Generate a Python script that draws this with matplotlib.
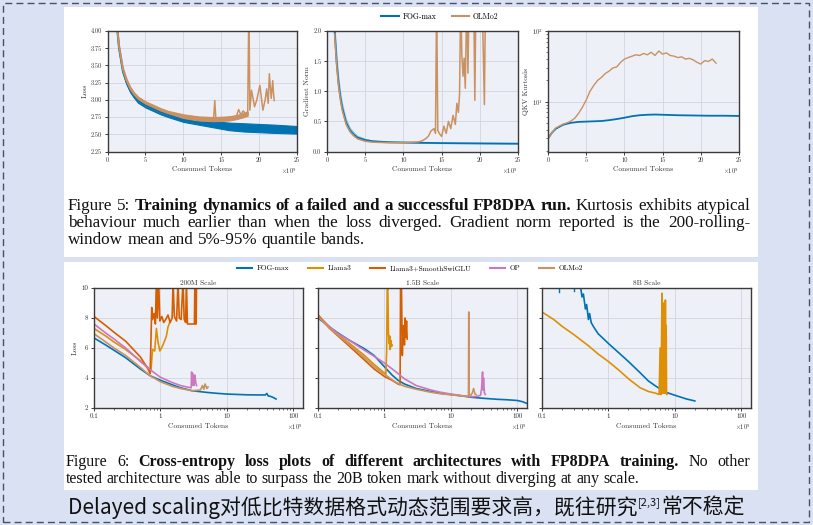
import matplotlib
matplotlib.use('Agg')
import matplotlib.pyplot as plt
from matplotlib.patches import Rectangle
from matplotlib.lines import Line2D

plt.rcParams['mathtext.fontset'] = 'cm'
plt.rcParams['axes.formatter.use_mathtext'] = True
plt.rcParams['font.family'] = ['cmr10', 'DejaVu Serif']
plt.rcParams['axes.unicode_minus'] = False

# ---------------- data : Figure 5 (x in 1e9 tokens) ----------------
loss_tok_fog = [1.2, 1.5, 2, 2.5, 3, 3.5, 4, 5, 6, 7, 8, 10, 12, 14, 16, 18, 20, 22, 25]
loss_fog_mid = [4.10, 3.75, 3.42, 3.25, 3.13, 3.05, 2.99, 2.92, 2.87, 2.82, 2.78, 2.71, 2.67, 2.64, 2.61, 2.60, 2.59, 2.58, 2.57]
loss_fog_lo = [4.05, 3.72, 3.40, 3.23, 3.11, 3.03, 2.96, 2.89, 2.84, 2.79, 2.75, 2.68, 2.64, 2.60, 2.56, 2.54, 2.53, 2.52, 2.51]
loss_fog_hi = [4.15, 3.78, 3.45, 3.27, 3.15, 3.07, 3.01, 2.95, 2.90, 2.85, 2.81, 2.74, 2.71, 2.69, 2.67, 2.66, 2.65, 2.64, 2.62]

loss_tok_olmo = [1.2, 1.5, 2, 2.5, 3, 3.5, 4, 5, 6, 7, 8, 10, 12, 14, 16, 17, 18, 18.5]
loss_olmo_mid = [4.12, 3.78, 3.45, 3.28, 3.16, 3.08, 3.02, 2.95, 2.90, 2.85, 2.81, 2.76, 2.73, 2.72, 2.73, 2.75, 2.78, 2.80]
loss_olmo_lo = [4.09, 3.75, 3.42, 3.25, 3.13, 3.05, 2.99, 2.92, 2.87, 2.82, 2.78, 2.73, 2.70, 2.69, 2.70, 2.72, 2.75, 2.77]
loss_olmo_hi = [4.15, 3.81, 3.48, 3.31, 3.19, 3.11, 3.05, 2.98, 2.93, 2.88, 2.84, 2.79, 2.76, 2.75, 2.76, 2.78, 2.81, 2.83]
loss_tok_olmo_spk = [14.0, 14.15, 14.3, 17.0, 17.3, 17.6, 17.9, 18.2, 18.5, 18.62, 18.68, 18.78, 19.0, 19.4, 19.7, 20.1,
                     20.5, 20.8, 21.0, 21.2, 21.35, 21.6, 21.8, 21.9, 22.0]
loss_olmo_spk = [2.72, 2.99, 2.72, 2.76, 2.86, 2.78, 2.84, 2.80, 2.83, 4.10, 4.10, 2.85, 3.14, 2.90, 3.00, 3.21,
                 2.85, 3.00, 3.16, 2.95, 3.38, 3.02, 3.28, 3.10, 2.99]

gn_tok_fog = [0.9, 1.0, 1.25, 1.5, 1.75, 2, 2.5, 3, 3.5, 4, 5, 6, 8, 10, 12, 15, 20, 25]
gn_fog_mid = [2.30, 2.00, 1.50, 1.15, 0.90, 0.72, 0.48, 0.35, 0.28, 0.23, 0.19, 0.17, 0.155, 0.15, 0.145, 0.14, 0.135, 0.13]
gn_fog_lo = [2.10, 1.85, 1.35, 1.02, 0.80, 0.64, 0.42, 0.31, 0.25, 0.21, 0.17, 0.155, 0.145, 0.14, 0.135, 0.13, 0.125, 0.12]
gn_fog_hi = [2.50, 2.20, 1.70, 1.30, 1.02, 0.82, 0.56, 0.41, 0.33, 0.27, 0.22, 0.19, 0.17, 0.16, 0.155, 0.15, 0.145, 0.14]
gn_tok_olmo = [1.0, 1.25, 1.5, 1.75, 2, 2.5, 3, 3.5, 4, 5, 6, 8, 10, 12, 12.5, 13, 13.3, 13.6, 14.0, 14.2, 14.35,
               14.5, 14.7, 15.0, 15.3, 15.6, 15.9, 16.2, 16.5, 16.8, 17.0, 17.2, 17.35, 17.5, 17.65, 17.8, 17.95,
               18.1, 18.3, 18.45, 18.6, 18.8, 19.0, 19.2, 19.35, 19.5, 19.7, 20.0, 20.3, 20.6, 20.75, 20.9]
gn_olmo = [1.95, 1.45, 1.10, 0.86, 0.68, 0.45, 0.33, 0.26, 0.21, 0.17, 0.155, 0.145, 0.145, 0.16, 0.18, 0.22, 0.26,
           0.34, 0.38, 0.30, 2.60, 0.35, 0.30, 0.25, 0.42, 0.30, 0.50, 0.38, 0.60, 0.45, 0.80, 0.65, 0.95, 2.60,
           1.60, 1.25, 1.55, 1.05, 2.60, 1.30, 2.60, 2.60, 2.60, 2.60, 0.85, 2.60, 2.60, 2.60, 2.60, 0.78, 2.60, 2.60]

kurt_tok_fog = [0, 0.5, 1, 1.5, 2, 3, 4, 5, 6, 7, 8, 9, 10, 11, 12, 13, 14, 15, 17, 19, 21, 23, 25]
kurt_fog = [3.0, 3.6, 4.1, 4.4, 4.7, 5.0, 5.15, 5.2, 5.25, 5.3, 5.45, 5.65, 5.9, 6.2, 6.4, 6.5, 6.55, 6.5, 6.4,
            6.35, 6.3, 6.3, 6.25]
kurt_tok_olmo = [0, 0.5, 1, 1.5, 2, 2.5, 3, 3.5, 4, 4.5, 5, 5.5, 6, 6.5, 7, 7.5, 8, 8.5, 9, 9.5, 10, 10.5, 11, 11.5,
                 12, 12.5, 13, 13.5, 14, 14.5, 15, 15.5, 16, 16.5, 17, 17.5, 18, 18.5, 19, 19.5, 20, 20.5, 21,
                 21.5, 22]
kurt_olmo = [3.0, 3.6, 4.2, 4.5, 4.8, 5.0, 5.3, 5.8, 6.8, 8.3, 10.5, 14, 17, 20, 22, 25, 27, 30, 31, 36, 40, 42,
             44, 46, 45, 48, 46, 50, 45, 52, 47, 49, 45, 44, 42, 43, 40, 41, 39, 36, 34, 38, 37, 40, 35]

# ---------------- data : Figure 6 (x in 1e9 tokens) ----------------
s200_fog_x = [0.1, 0.15, 0.2, 0.3, 0.5, 0.7, 1, 1.5, 2, 3, 5, 7, 10, 15, 20, 30, 38, 40, 42, 45, 50, 55]
s200_fog_y = [6.67, 6.2, 5.85, 5.35, 4.6, 4.15, 3.85, 3.55, 3.35, 3.15, 3.04, 2.98, 2.93, 2.9, 2.88, 2.87, 2.87,
              2.97, 2.8, 2.78, 2.7, 2.6]
s200_llama_x = [0.1, 0.15, 0.2, 0.3, 0.5, 0.65, 0.72, 0.76, 0.82, 0.87, 0.92, 0.98, 1.04, 1.09, 1.16, 1.23, 1.3, 1.38]
s200_llama_y = [7.3, 6.8, 6.4, 5.9, 5.15, 4.7, 4.5, 5.9, 5.8, 7.3, 6.4, 5.8, 6.0, 6.2, 6.5, 6.8, 7.4, 7.7]
s200_smooth_x = [0.1, 0.15, 0.2, 0.3, 0.5, 0.65, 0.7, 0.72, 0.74, 0.76, 0.8, 0.84, 0.87, 0.9, 0.94, 0.98, 1.05,
                 1.12, 1.2, 1.3, 1.4, 1.5, 1.55, 1.62, 1.75, 1.84, 1.92, 2.05, 2.19, 2.28, 2.4, 2.46, 2.55, 2.7,
                 2.9, 3.1, 3.25, 3.3, 3.38, 3.45, 3.5]
s200_smooth_y = [8.1, 7.5, 7.05, 6.45, 5.4, 4.6, 4.3, 6.5, 8.7, 7.9, 8.3, 7.6, 10.5, 8.0, 10.5, 7.8, 8.1, 7.7, 7.9,
                 8.2, 7.7, 8.0, 10.5, 8.1, 7.8, 10.5, 8.0, 7.9, 10.5, 7.9, 7.7, 10.5, 7.6, 7.6, 7.6, 7.6, 7.6,
                 10.5, 7.6, 7.6, 10.5]
s200_op_x = [0.1, 0.15, 0.2, 0.3, 0.5, 0.7, 1, 1.5, 2, 2.5, 2.9, 2.95, 3.0, 3.05, 3.1, 3.15, 3.2, 3.3, 3.4, 3.5]
s200_op_y = [7.6, 7.0, 6.6, 6.0, 5.1, 4.55, 4.05, 3.7, 3.5, 3.4, 3.35, 4.4, 3.5, 4.3, 3.6, 4.1, 3.5, 4.2, 3.7, 3.5]
s200_olmo_x = [0.1, 0.15, 0.2, 0.3, 0.5, 0.7, 1, 1.5, 2, 3, 4, 4.3, 4.5, 4.7, 5, 5.2]
s200_olmo_y = [6.95, 6.4, 6.0, 5.5, 4.7, 4.15, 3.75, 3.45, 3.3, 3.15, 3.2, 3.5, 3.25, 3.6, 3.3, 3.4]

s15_fog_x = [0.1, 0.15, 0.2, 0.3, 0.5, 0.7, 1, 1.3, 1.6, 2, 3, 5, 7, 10, 15, 20, 30, 50, 70, 100, 120, 140]
s15_fog_y = [8.0, 7.4, 7.0, 6.5, 5.95, 5.5, 4.75, 4.2, 3.85, 3.6, 3.3, 3.1, 2.98, 2.9, 2.8, 2.72, 2.65, 2.58, 2.55,
             2.5, 2.42, 2.3]
s15_llama_x = [0.1, 0.15, 0.2, 0.3, 0.5, 0.7, 0.9, 1.05, 1.08, 1.1, 1.12, 1.15, 1.18, 1.2, 1.22, 1.25, 1.28, 1.3]
s15_llama_y = [8.2, 7.4, 6.9, 6.3, 5.5, 4.9, 4.5, 4.25, 5.8, 9.8, 10.5, 7.0, 6.3, 6.8, 5.9, 6.5, 6.1, 6.2]
s15_smooth_x = [0.1, 0.15, 0.2, 0.3, 0.5, 0.7, 1, 1.3, 1.6, 1.72, 1.75, 1.8, 1.86, 1.9, 1.95, 2.0, 2.05, 2.1,
                2.15, 2.2]
s15_smooth_y = [8.2, 7.3, 6.8, 6.1, 5.2, 4.6, 4.1, 3.85, 3.6, 3.55, 10.5, 10.5, 5.5, 7.0, 7.5, 6.2, 8.0, 6.7,
                7.8, 6.6]
s15_op_x = [0.1, 0.15, 0.2, 0.3, 0.5, 0.7, 1, 1.5, 2, 3, 5, 7, 10, 15, 20, 25, 28, 29, 30, 30.5, 31, 32, 33]
s15_op_y = [8.1, 7.4, 6.95, 6.5, 5.85, 5.45, 5.0, 4.4, 3.95, 3.5, 3.2, 3.05, 2.93, 2.82, 2.75, 2.78, 2.85, 3.3,
            4.4, 3.2, 4.0, 3.0, 2.9]
s15_olmo_x = [0.1, 0.15, 0.2, 0.3, 0.5, 0.7, 1, 1.5, 2, 3, 5, 7, 10, 15, 18, 18.4, 18.6, 18.8, 20, 21, 22, 23, 24]
s15_olmo_y = [8.1, 7.3, 6.85, 6.2, 5.35, 4.75, 4.25, 3.7, 3.45, 3.25, 3.05, 2.95, 2.88, 2.8, 2.78, 2.8, 8.4,
              2.9, 2.85, 3.0, 3.3, 2.95, 2.9]

s8_fog_x = [0.37, 0.4, 0.42, 0.45, 0.47, 0.5, 0.52, 0.55, 0.6, 0.7, 0.85, 1, 1.5, 2, 3, 4, 5, 7, 10, 15, 20]
s8_fog_y = [10.5, 9.4, 9.6, 8.6, 8.9, 7.9, 8.3, 7.7, 7.4, 6.95, 6.6, 6.3, 5.6, 5.1, 4.35, 3.8, 3.5, 3.08, 2.85,
            2.6, 2.47]
s8_fog_noise_x = [0.18, 0.18, 0.3, 0.3]
s8_fog_noise_y = [10.5, 9.75, 10.5, 9.8]
s8_llama_x = [0.1, 0.15, 0.2, 0.3, 0.5, 0.7, 1, 1.5, 2, 3, 4, 5, 5.8, 6.0, 6.2, 6.4, 6.5, 6.6, 6.7, 6.8, 6.9,
              7.0, 7.1, 7.2, 7.3, 7.4, 7.5, 7.6]
s8_llama_y = [8.4, 7.9, 7.45, 6.9, 6.15, 5.6, 5.1, 4.45, 3.95, 3.35, 3.1, 3.0, 2.9, 6.0, 2.9, 9.65, 3.0, 8.0,
              3.0, 9.0, 3.0, 8.2, 3.0, 9.2, 3.0, 7.5, 2.95, 2.9]

series_names = ['FOG-max', 'Llama3', 'Llama3+SmoothSwiGLU', 'OP', 'OLMo2']
series_colors = ['#0173b2', '#de8f05', '#d55e00', '#cc78bc', '#ca9161']
scale_titles = ['200M Scale', '1.5B Scale', '8B Scale']
bottom_xticks = [0.1, 1, 10, 100]
bottom_xticklabels = ['0.1', '1', '10', '100']

caption5 = [
    [("Figure 5:", False), ("Training dynamics of a failed and a successful FP8DPA run.", True),
     ("Kurtosis exhibits atypical", False)],
    [("behaviour much earlier than when the loss diverged.  Gradient norm reported is the 200-rolling-", False)],
    [("window mean and 5%-95% quantile bands.", False)],
]
caption6 = [
    [("Figure 6:", False), ("Cross-entropy loss plots of different architectures with FP8DPA training.", True),
     ("No other", False)],
    [("tested architecture was able to surpass the 20B token mark without diverging at any scale.", False)],
]
slide_text_a = "Delayed scaling对低比特数据格式动态范围要求高，既往研究"
slide_text_sup = "[2,3]"
slide_text_b = "常不稳定"

# ---------------- layout ----------------
W, H = 813, 525
fig = plt.figure(figsize=(W / 100, H / 100), dpi=100)
fig.patch.set_facecolor('#d9e1f2')


def rect(x0, y0, x1, y1):
    return [x0 / W, 1 - y1 / H, (x1 - x0) / W, (y1 - y0) / H]


fig.add_artist(Rectangle((3 / W, 1 - 522 / H), 806 / W, 519 / H, transform=fig.transFigure, fill=False,
                         edgecolor='#44536a', lw=1.0, ls=(0, (5, 3)), zorder=-4))
for (x0, y0, x1, y1) in [(64, 7, 758, 257), (64, 262, 758, 490)]:
    fig.add_artist(Rectangle((x0 / W, 1 - y1 / H), (x1 - x0) / W, (y1 - y0) / H, transform=fig.transFigure,
                             facecolor='white', edgecolor='none', zorder=-5))

TXT = '#333333'


def style_ax(ax, ts):
    ax.set_facecolor('#eef0f8')
    ax.grid(True, which='major', color='#d2d5df', lw=0.6)
    ax.set_axisbelow(True)
    for s in ax.spines.values():
        s.set_color('#3a3a3a')
        s.set_linewidth(1.0)
    ax.tick_params(which='major', direction='out', length=2.5, width=0.7, labelsize=ts, colors='#3a3a3a',
                   labelcolor=TXT, pad=1.5)
    ax.tick_params(which='minor', direction='out', length=1.5, width=0.5, colors='#3a3a3a')


def offset_label(ax, fs, dy):
    ax.text(1.0, dy, r'$\times10^{9}$', transform=ax.transAxes, ha='right', va='top', fontsize=fs, color=TXT)


LFS = 5.4
TFS = 4.6
C_FOG = series_colors[0]
C_OLMO = series_colors[4]

# Top panels
ax1 = fig.add_axes(rect(107.5, 31, 297, 151.5))
ax2 = fig.add_axes(rect(327, 31, 518, 151.5))
ax3 = fig.add_axes(rect(548, 31, 739, 151.5))
for ax in (ax1, ax2, ax3):
    style_ax(ax, TFS)
    ax.set_xlim(0, 25)
    ax.set_xticks([0, 5, 10, 15, 20, 25])
    ax.set_xticklabels(['0', '5', '10', '15', '20', '25'])
    ax.set_xlabel('Consumed Tokens', fontsize=LFS, color=TXT, labelpad=2.5)
    offset_label(ax, TFS, -0.12)

ax1.fill_between(loss_tok_fog, loss_fog_lo, loss_fog_hi, color=C_FOG, lw=0.8)
ax1.plot(loss_tok_fog, loss_fog_mid, color=C_FOG, lw=1.2)
ax1.fill_between(loss_tok_olmo, loss_olmo_lo, loss_olmo_hi, color=C_OLMO, lw=0.8)
ax1.plot(loss_tok_olmo, loss_olmo_mid, color=C_OLMO, lw=1.2)
ax1.plot(loss_tok_olmo_spk, loss_olmo_spk, color=C_OLMO, lw=1.1)
ax1.set_ylim(2.25, 4.0)
yt = [2.25, 2.5, 2.75, 3.0, 3.25, 3.5, 3.75, 4.0]
ax1.set_yticks(yt)
ax1.set_yticklabels([f'{v:.2f}' for v in yt])
ax1.set_ylabel('Loss', fontsize=LFS, color=TXT, labelpad=2)

ax2.fill_between(gn_tok_fog, gn_fog_lo, gn_fog_hi, color='#8ec3e6', lw=0)
ax2.plot(gn_tok_fog, gn_fog_mid, color=C_FOG, lw=1.3)
ax2.plot(gn_tok_olmo, gn_olmo, color=C_OLMO, lw=1.1)
ax2.set_ylim(0, 2.0)
yt = [0.0, 0.5, 1.0, 1.5, 2.0]
ax2.set_yticks(yt)
ax2.set_yticklabels([f'{v:.1f}' for v in yt])
ax2.set_ylabel('Gradient Norm', fontsize=LFS, color=TXT, labelpad=2)

ax3.plot(kurt_tok_fog, kurt_fog, color=C_FOG, lw=1.3)
ax3.plot(kurt_tok_olmo, kurt_olmo, color=C_OLMO, lw=1.0)
ax3.set_yscale('log')
ax3.set_ylim(1.96, 100)
ax3.set_yticks([10, 100])
ax3.set_yticklabels([r'$10^1$', r'$10^2$'])
ax3.yaxis.set_minor_formatter(plt.NullFormatter())
ax3.set_ylabel('QKV Kurtosis', fontsize=LFS, color=TXT, labelpad=2)

fig.legend([Line2D([0], [0], color=C_FOG, lw=1.5), Line2D([0], [0], color=C_OLMO, lw=1.5)],
           ['FOG-max', 'OLMo2'], loc='center', bbox_to_anchor=(440 / W, 1 - 17 / H), ncol=2, frameon=False,
           prop={'family': 'cmr10', 'size': 5.6}, handlelength=2.2, columnspacing=2.0, handletextpad=0.5)

# Bottom panels
panel_data = [
    [(s200_fog_x, s200_fog_y), (s200_llama_x, s200_llama_y), (s200_smooth_x, s200_smooth_y),
     (s200_op_x, s200_op_y), (s200_olmo_x, s200_olmo_y)],
    [(s15_fog_x, s15_fog_y), (s15_llama_x, s15_llama_y), (s15_smooth_x, s15_smooth_y),
     (s15_op_x, s15_op_y), (s15_olmo_x, s15_olmo_y)],
    [(s8_fog_x, s8_fog_y), (s8_llama_x, s8_llama_y), None, None, None],
]
bx = [(94, 303), (318, 527), (542, 751)]
baxes = []
for i, (x0, x1) in enumerate(bx):
    ax = fig.add_axes(rect(x0, 288, x1, 408))
    style_ax(ax, 5.0)
    ax.set_xscale('log')
    ax.set_xlim(0.1, 140)
    ax.set_ylim(2, 10)
    ax.set_xticks(bottom_xticks)
    ax.set_xticklabels(bottom_xticklabels)
    ax.xaxis.set_minor_formatter(plt.NullFormatter())
    ax.set_yticks([2, 4, 6, 8, 10])
    if i == 0:
        ax.set_yticklabels(['2', '4', '6', '8', '10'])
        ax.set_ylabel('Loss', fontsize=LFS, color=TXT, labelpad=3)
    else:
        ax.set_yticklabels([])
    ax.set_title(scale_titles[i], fontsize=5.3, color=TXT, pad=2)
    ax.set_xlabel('Consumed Tokens', fontsize=LFS, color=TXT, labelpad=2.5)
    offset_label(ax, 4.6, -0.12)
    for j, d in enumerate(panel_data[i]):
        if d is None:
            continue
        ax.plot(d[0], d[1], color=series_colors[j], lw=1.2, solid_joinstyle='round')
    baxes.append(ax)
baxes[2].plot(s8_fog_noise_x[:2], s8_fog_noise_y[:2], color=C_FOG, lw=1.0)
baxes[2].plot(s8_fog_noise_x[2:], s8_fog_noise_y[2:], color=C_FOG, lw=1.0)

fig.legend([Line2D([0], [0], color=c, lw=1.5) for c in series_colors], series_names, loc='center',
           bbox_to_anchor=(410 / W, 1 - 268 / H), ncol=5, frameon=False,
           prop={'family': 'cmr10', 'size': 5.3}, handlelength=2.0, columnspacing=2.6, handletextpad=0.6)

# ---------------- captions ----------------
renderer = fig.canvas.get_renderer()
SERIF = ['Liberation Serif', 'DejaVu Serif']


def make_words(segments, size):
    words = []
    for text, bold in segments:
        for w in text.split():
            words.append((w, bold))
    objs, widths = [], []
    for w, bold in words:
        t = fig.text(0, 0, w, fontsize=size, family=SERIF, fontweight='bold' if bold else 'normal',
                     color='#111111', ha='left', va='baseline')
        objs.append(t)
        widths.append(t.get_window_extent(renderer).width)
    return objs, widths


def fit_size(segments, size0, target_w):
    objs, widths = make_words(segments, size0)
    natural = sum(widths) + 0.25 * size0 * 100 / 72 * (len(widths) - 1)
    for t in objs:
        t.remove()
    return size0 * target_w / natural


def place_line(segments, x0, y_base, size, target_w=None):
    objs, widths = make_words(segments, size)
    gap = 0.25 * size * 100 / 72
    if target_w is not None and len(objs) > 1:
        gap = (target_w - sum(widths)) / (len(objs) - 1)
    x = x0
    for t, wd in zip(objs, widths):
        t.set_position((x / W, 1 - y_base / H))
        x += wd + gap


s5 = fit_size(caption5[0], 10.0, 680)
place_line(caption5[0], 68, 210, s5, target_w=682)
place_line(caption5[1], 68, 227, s5, target_w=682)
place_line(caption5[2], 68, 244, s5)
s6 = fit_size(caption6[1], 10.0, 574)
place_line(caption6[0], 66, 466, s6, target_w=684)
place_line(caption6[1], 66, 483, s6)

CJK = ['Noto Sans CJK SC', 'DejaVu Sans']
ta = fig.text(0, 0, slide_text_a, fontsize=16, family=CJK, color='#111111', va='baseline')
ts = fig.text(0, 0, slide_text_sup, fontsize=8.5, family=CJK, color='#111111', va='baseline')
tb = fig.text(0, 0, slide_text_b, fontsize=16, family=CJK, color='#111111', va='baseline')
wa = ta.get_window_extent(renderer).width
ws = ts.get_window_extent(renderer).width
wb = tb.get_window_extent(renderer).width
k = 677 / (wa + ws + wb + 2)
for t in (ta, ts, tb):
    t.set_fontsize(t.get_fontsize() * k)
wa, ws, wb = wa * k, ws * k, wb * k
xb = 68
yb = 514
ta.set_position((xb / W, 1 - yb / H))
ts.set_position(((xb + wa + 1) / W, 1 - (yb - 9) / H))
tb.set_position(((xb + wa + ws + 2) / W, 1 - yb / H))

fig.savefig('out.png', dpi=100, facecolor=fig.get_facecolor())
